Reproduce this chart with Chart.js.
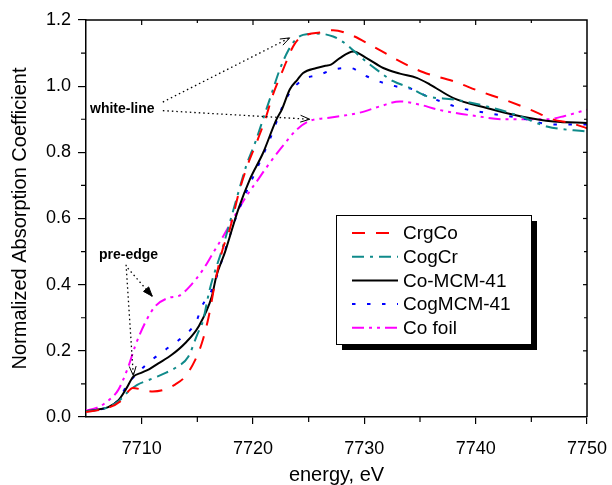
<!DOCTYPE html>
<html><head><meta charset="utf-8">
<script src="https://cdn.jsdelivr.net/npm/chart.js@4.4.0/dist/chart.umd.min.js"></script>
<style>html,body{margin:0;padding:0;background:#fff}canvas{display:block}</style>
</head><body>
<canvas id="c" width="612" height="485"></canvas>
<script>
// ---- data ----
const seriesNames = ['CrgCo', 'CogCr', 'Co-MCM-41', 'CogMCM-41', 'Co foil'];

const crgcoE = [7705, 7706, 7707, 7708, 7708.6, 7709.2, 7710, 7711, 7712, 7713, 7713.9, 7714.8, 7715.4, 7716, 7716.7, 7717.3, 7717.9, 7718.8, 7719.5, 7720.3, 7721.1, 7721.8, 7722.7, 7723.6, 7724.2, 7725, 7726, 7727.2, 7728.7, 7730.8, 7733.2, 7735.3, 7738, 7740.4, 7742.5, 7744.9, 7747, 7748.5, 7750];
const crgcoY = [0.015, 0.02, 0.028, 0.045, 0.07, 0.088, 0.083, 0.077, 0.082, 0.098, 0.122, 0.172, 0.223, 0.30, 0.425, 0.51, 0.566, 0.687, 0.76, 0.828, 0.90, 0.975, 1.05, 1.12, 1.146, 1.157, 1.162, 1.169, 1.156, 1.12, 1.075, 1.042, 1.015, 0.984, 0.96, 0.929, 0.899, 0.889, 0.873];

const cogcrE = [7705, 7706, 7707, 7708, 7708.8, 7709.6, 7710.5, 7711.4, 7712.2, 7713.1, 7714.2, 7715, 7715.5, 7716.1, 7717.3, 7718.5, 7719.4, 7720.2, 7720.9, 7721.6, 7722.4, 7723.2, 7723.8, 7724.5, 7725.7, 7727.2, 7728.4, 7729.6, 7731.1, 7732.6, 7734.1, 7735.6, 7738, 7741, 7744, 7746.4, 7750];
const cogcrY = [0.017, 0.021, 0.03, 0.05, 0.077, 0.097, 0.11, 0.122, 0.134, 0.15, 0.183, 0.25, 0.29, 0.384, 0.515, 0.657, 0.76, 0.83, 0.9, 0.97, 1.05, 1.11, 1.14, 1.155, 1.159, 1.15, 1.126, 1.09, 1.05, 1.015, 0.995, 0.97, 0.96, 0.939, 0.909, 0.878, 0.863];

const comcmE = [7705, 7706, 7707, 7707.9, 7708.6, 7709.25, 7710, 7710.7, 7711.5, 7712.7, 7713.9, 7715.1, 7716.3, 7716.7, 7717.5, 7718.7, 7719.7, 7720.9, 7722.1, 7722.6, 7723.3, 7724, 7724.5, 7725.7, 7726.5, 7727, 7727.8, 7729, 7730.2, 7731.7, 7733.2, 7734.7, 7735.9, 7738, 7741, 7744, 7747, 7750];
const comcmY = [0.018, 0.022, 0.03, 0.05, 0.085, 0.122, 0.134, 0.145, 0.162, 0.188, 0.223, 0.273, 0.364, 0.425, 0.50, 0.63, 0.717, 0.798, 0.899, 0.93, 0.99, 1.02, 1.04, 1.055, 1.062, 1.065, 1.085, 1.105, 1.085, 1.055, 1.038, 1.025, 1.005, 0.964, 0.934, 0.909, 0.893, 0.889];

const cogmcmE = [7705, 7706, 7707, 7708, 7708.6, 7709.6, 7710.9, 7712.2, 7713.7, 7714.9, 7715.4, 7716.3, 7717.6, 7718.5, 7719.4, 7720.3, 7721.5, 7722.6, 7723.3, 7724.5, 7726, 7727.2, 7728.7, 7730.2, 7731.7, 7732.9, 7734.4, 7735.6, 7737.1, 7738.6, 7741, 7744, 7747, 7750];
const cogmcmY = [0.018, 0.022, 0.03, 0.055, 0.092, 0.132, 0.172, 0.205, 0.243, 0.288, 0.334, 0.384, 0.515, 0.606, 0.68, 0.747, 0.838, 0.934, 0.98, 1.02, 1.035, 1.05, 1.055, 1.03, 1.01, 0.999, 0.99, 0.97, 0.951, 0.934, 0.919, 0.904, 0.884, 0.884];

const cofoilE = [7705, 7706, 7706.7, 7707.9, 7708.8, 7709.4, 7710.3, 7711.2, 7712.4, 7713.4, 7714.3, 7715.5, 7716.4, 7717.3, 7718.3, 7719.4, 7720.5, 7721.5, 7722.7, 7723.9, 7725.1, 7727, 7729.6, 7731.5, 7733.2, 7735, 7736.5, 7738, 7740, 7742.5, 7744.5, 7746.4, 7748, 7750];
const cofoilY = [0.02, 0.028, 0.042, 0.082, 0.152, 0.213, 0.284, 0.334, 0.36, 0.367, 0.394, 0.445, 0.495, 0.545, 0.605, 0.667, 0.72, 0.768, 0.82, 0.868, 0.895, 0.905, 0.92, 0.94, 0.954, 0.944, 0.93, 0.92, 0.91, 0.90, 0.90, 0.90, 0.91, 0.929];

const xTickValues = [7710, 7720, 7730, 7740, 7750];
const yTickValues = [0.0, 0.2, 0.4, 0.6, 0.8, 1.0, 1.2];

// annotation anchor points (data coordinates)
const whiteLineText = 'white-line';
const whiteLineArrows = [[7711.9, 0.952, 7723.3, 1.146], [7711.9, 0.926, 7725.1, 0.90]];
const preEdgeText = 'pre-edge';
const preEdgeArrows = [[7708.6, 0.46, 7709.25, 0.125], [7708.75, 0.45, 7710.95, 0.365]];

// ---- styles ----
const FONT = "'Liberation Sans', Arial, sans-serif";
const styles = [
  {color: '#ff0000', dash: [13, 11]},
  {color: '#0f8a8a', dash: [12, 6, 3, 6]},
  {color: '#000000', dash: []},
  {color: '#0000ff', dash: [3.5, 11.5]},
  {color: '#ff00ff', dash: [12, 5, 3, 5, 3, 5]}
];
const allE = [crgcoE, cogcrE, comcmE, cogmcmE, cofoilE];
const allY = [crgcoY, cogcrY, comcmY, cogmcmY, cofoilY];

const datasets = seriesNames.map((n, i) => ({
  label: n,
  data: allE[i].map((e, k) => ({x: e, y: allY[i][k]})),
  borderColor: styles[i].color,
  borderDash: styles[i].dash,
  borderWidth: 2,
  pointRadius: 0,
  fill: false,
  cubicInterpolationMode: 'monotone'
}));

function arrow(ctx, x1, y1, x2, y2, filled) {
  ctx.beginPath(); ctx.moveTo(x1, y1); ctx.lineTo(x2, y2); ctx.stroke();
  const ang = Math.atan2(y2 - y1, x2 - x1), L = 10, w = 0.35;
  ctx.save(); ctx.setLineDash([]); ctx.lineWidth = 1;
  ctx.beginPath();
  ctx.moveTo(x2 - L * Math.cos(ang - w), y2 - L * Math.sin(ang - w));
  ctx.lineTo(x2, y2);
  ctx.lineTo(x2 - L * Math.cos(ang + w), y2 - L * Math.sin(ang + w));
  if (filled) { ctx.closePath(); ctx.fillStyle = '#000'; ctx.fill(); }
  ctx.stroke();
  ctx.restore();
}

const decor = {
  id: 'decor',
  afterDraw(chart) {
    const {ctx, chartArea: a, scales: {x, y}} = chart;
    ctx.save();
    ctx.strokeStyle = '#000'; ctx.lineWidth = 1.5; ctx.setLineDash([]);
    // frame top & right
    ctx.beginPath(); ctx.moveTo(a.left, a.top); ctx.lineTo(a.right, a.top); ctx.lineTo(a.right, a.bottom); ctx.stroke();
    ctx.lineWidth = 1.2;
    // x minor ticks (bottom outward) + top inward ticks
    for (let v = x.min; v <= x.max + 1e-6; v += 5) {
      const px = x.getPixelForValue(v);
      const major = Math.abs(v % 10) < 1e-6;
      ctx.beginPath();
      if (!major && v > x.min) { ctx.moveTo(px, a.bottom); ctx.lineTo(px, a.bottom + 5); }
      if (v > x.min && v < x.max) { ctx.moveTo(px, a.top); ctx.lineTo(px, a.top + (major ? 5 : 3)); }
      ctx.stroke();
    }
    for (let k = 0; k <= 12; k++) {
      const v = k / 10, py = y.getPixelForValue(v);
      ctx.beginPath();
      if (k % 2 === 1) { ctx.moveTo(a.left, py); ctx.lineTo(a.left - 5, py); }
      if (k > 0 && k < 12) { ctx.moveTo(a.right, py); ctx.lineTo(a.right - (k % 2 ? 3 : 4), py); }
      ctx.stroke();
    }
    // annotations
    ctx.fillStyle = '#000';
    ctx.font = 'bold 14px ' + FONT;
    ctx.textBaseline = 'alphabetic';
    ctx.fillText(whiteLineText, 90, 113);
    ctx.fillText(preEdgeText, 99, 259);
    ctx.lineWidth = 1.3; ctx.setLineDash([1.5, 3]);
    whiteLineArrows.forEach(r => arrow(ctx, x.getPixelForValue(r[0]), y.getPixelForValue(r[1]), x.getPixelForValue(r[2]), y.getPixelForValue(r[3]), false));
    preEdgeArrows.forEach((r, i) => arrow(ctx, x.getPixelForValue(r[0]), y.getPixelForValue(r[1]), x.getPixelForValue(r[2]), y.getPixelForValue(r[3]), i === 1));
    // legend
    ctx.setLineDash([]);
    const bx = 336, by = 215, bw = 195, bh = 129;
    ctx.fillStyle = '#000'; ctx.fillRect(bx + 6, by + 6, bw, bh);
    ctx.fillStyle = '#fff'; ctx.fillRect(bx, by, bw, bh);
    ctx.lineWidth = 1; ctx.strokeStyle = '#000'; ctx.strokeRect(bx + 0.5, by + 0.5, bw, bh);
    ctx.font = '19px ' + FONT; ctx.textBaseline = 'middle';
    chart.data.datasets.forEach((d, i) => {
      const ly = 233 + i * 23.7;
      ctx.strokeStyle = d.borderColor; ctx.lineWidth = 2; ctx.setLineDash(d.borderDash);
      ctx.beginPath(); ctx.moveTo(352, ly); ctx.lineTo(398, ly); ctx.stroke();
      ctx.fillStyle = '#000'; ctx.fillText(d.label, 403, ly + 1);
    });
    ctx.restore();
  }
};

new Chart(document.getElementById('c'), {
  type: 'line',
  data: {datasets},
  options: {
    responsive: false, animation: false, devicePixelRatio: 1,
    layout: {padding: {top: 20, right: 25, left: 0, bottom: 0}},
    plugins: {legend: {display: false}, tooltip: {enabled: false}},
    scales: {
      x: {
        type: 'linear', min: 7705, max: 7750,
        afterBuildTicks: s => { s.ticks = xTickValues.map(v => ({value: v})); },
        afterFit: s => { s.height = 68; s.paddingLeft = 0; s.paddingRight = 0; },
        ticks: {color: '#000', font: {size: 18, family: FONT}, padding: 14, maxRotation: 0, callback: v => String(v)},
        grid: {drawOnChartArea: false, drawTicks: true, tickLength: 7, color: '#000', lineWidth: 1.2},
        border: {display: true, color: '#000', width: 1.5},
        title: {display: true, text: 'energy, eV', color: '#000', font: {size: 20, family: FONT}, padding: {top: 0, bottom: -2}}
      },
      y: {
        min: 0, max: 1.2,
        afterBuildTicks: s => { s.ticks = yTickValues.map(v => ({value: v})); },
        afterFit: s => { s.width = 86; s.paddingTop = 0; s.paddingBottom = 0; },
        ticks: {color: '#000', font: {size: 18, family: FONT}, padding: 7, callback: v => Number(v).toFixed(1)},
        grid: {drawOnChartArea: false, drawTicks: true, tickLength: 8, color: '#000', lineWidth: 1.2},
        border: {display: true, color: '#000', width: 1.5},
        title: {display: true, text: 'Normalized Absorption Coefficient', color: '#000', font: {size: 20, family: FONT}, padding: {top: 8, bottom: 0}}
      }
    }
  },
  plugins: [decor]
});
</script>
</body></html>
